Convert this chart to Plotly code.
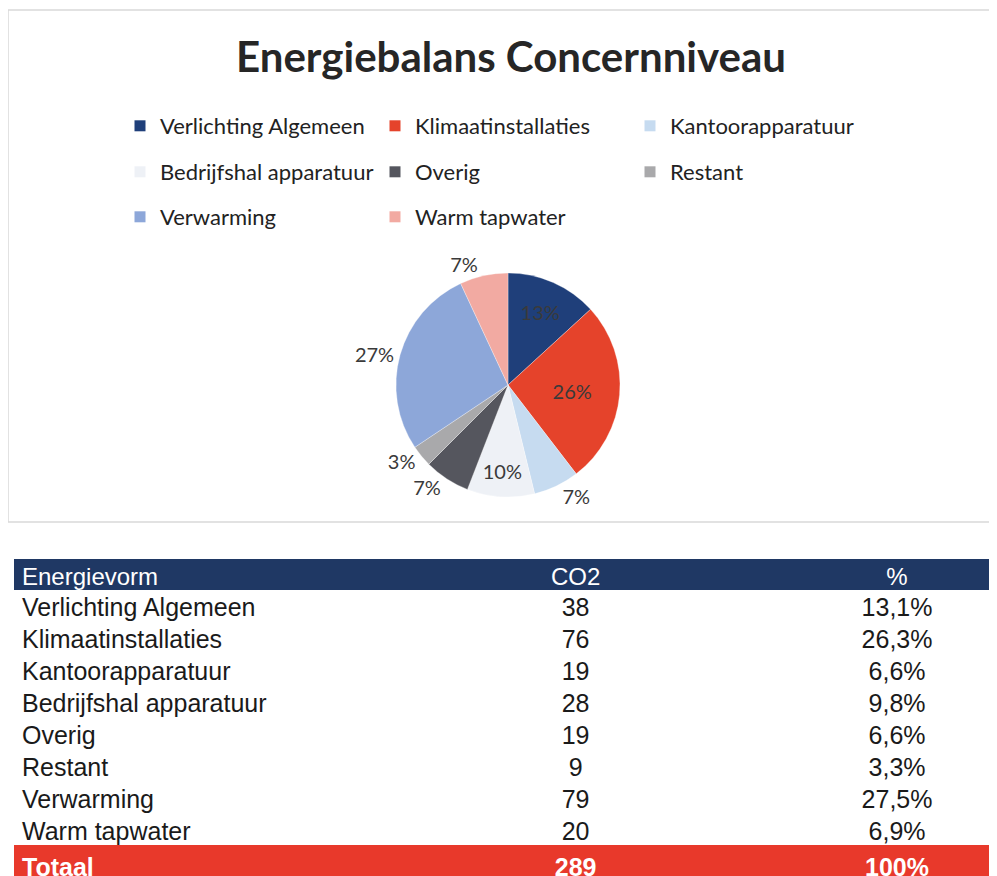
import plotly.graph_objects as go

# ---- data ----
categories = ["Verlichting Algemeen", "Klimaatinstallaties", "Kantoorapparatuur",
              "Bedrijfshal apparatuur", "Overig", "Restant", "Verwarming", "Warm tapwater"]
co2_values = [38, 76, 19, 28, 19, 9, 79, 20]
pct_labels = ["13,1%", "26,3%", "6,6%", "9,8%", "6,6%", "3,3%", "27,5%", "6,9%"]
total_label = "Totaal"
total_co2 = "289"
total_pct = "100%"
table_headers = ["Energievorm", "CO2", "%"]
title_text = "Energiebalans Concernniveau"

# ---- styles ----
colors = ["#1F3F7A", "#E5432B", "#C6DBF0", "#EEF1F6", "#55565E", "#A9A9AB", "#8DA7D9", "#F2AAA2"]
text_pos = ["inside", "inside", "outside", "inside", "outside", "outside", "outside", "outside"]
legend_rows = [[0, 1, 2], [3, 4, 5], [6, 7]]
legend_names = ["legend", "legend2", "legend3"]
legend_y_px = [126, 172, 217]

W, H = 997, 876
OFF = 8  # page body margin


def X(px):
    return (px - OFF) / W


def Y(py):
    return 1 - (py - OFF) / H


fig = go.Figure()

R = 112
CX, CY = 508, 385
fig.add_trace(go.Pie(
    labels=categories, values=co2_values, sort=False, direction="clockwise",
    marker=dict(colors=colors, line=dict(color="rgba(255,255,255,0.6)", width=0.5)),
    texttemplate="%{percent:.0%}", textposition=text_pos,
    textfont=dict(family="Lato", size=20, color="#3a3a3a"),
    insidetextorientation="horizontal",
    showlegend=False, hoverinfo="label+value+percent",
    domain=dict(x=[X(CX - R), X(CX + R)], y=[Y(CY + R), Y(CY - R)]),
))

# legend entries (one legend per row so rows can be spaced like the original)
for row, lname in zip(legend_rows, legend_names):
    for i in row:
        fig.add_trace(go.Scatter(
            x=[None], y=[None], mode="markers", name=categories[i],
            marker=dict(symbol="square", size=11, color=colors[i]),
            legend=lname, showlegend=True, hoverinfo="skip",
        ))

legend_common = dict(orientation="h", xanchor="left", yanchor="middle",
                     x=X(120), entrywidth=210, entrywidthmode="pixels",
                     itemwidth=30, bgcolor="rgba(0,0,0,0)",
                     font=dict(family="Lato", size=22, color="#222"))
layout_legends = {}
for lname, ypx in zip(legend_names, legend_y_px):
    layout_legends[lname] = dict(legend_common, y=Y(ypx))

# table
n = len(categories)
col1 = categories + ["<b>" + total_label + "</b>"]
col2 = [str(v) for v in co2_values] + ["<b>" + total_co2 + "</b>"]
col3 = pct_labels + ["<b>" + total_pct + "</b>"]
row_fill = ["white"] * n + ["#E8392B"]
row_font = ["#1a1a1a"] * n + ["white"]

fig.add_trace(go.Table(
    domain=dict(x=[X(14), 1], y=[0, Y(559)]),
    columnwidth=[345, 423, 214],
    header=dict(values=table_headers, fill_color="#1F3864", line=dict(color="#1F3864", width=1),
                align=["left", "center", "center"], height=30,
                font=dict(family="Liberation Sans", size=24, color="white")),
    cells=dict(values=[col1, col2, col3], fill_color=[row_fill] * 3,
               line=dict(color=[row_fill] * 3, width=1),
               align=["left", "center", "center"], height=32,
               font=dict(family="Liberation Sans", size=25, color=[row_font] * 3)),
))

fig.update_layout(
    width=W, height=H, margin=dict(l=0, r=0, t=0, b=0),
    paper_bgcolor="white", plot_bgcolor="white",
    xaxis=dict(visible=False), yaxis=dict(visible=False),
    title=dict(text="<b>" + title_text + "</b>", x=X(511), xanchor="center",
               y=Y(57), yanchor="middle",
               font=dict(family="Lato", size=42, color="#262626")),
    shapes=[dict(type="rect", xref="paper", yref="paper",
                 x0=X(8), x1=1.01, y0=Y(522), y1=Y(10),
                 line=dict(color="#D9D9D9", width=1.5), fillcolor="rgba(0,0,0,0)", layer="below")],
    **layout_legends,
)

fig.write_html("out.html")
